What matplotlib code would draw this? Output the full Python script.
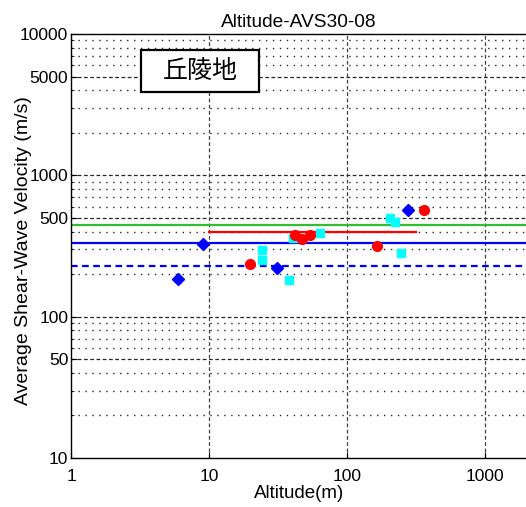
"""Altitude vs AVS30 scatter for hill terrain (丘陵地), log-log."""
import matplotlib
matplotlib.use("Agg")
import matplotlib.pyplot as plt
from matplotlib.patches import Rectangle

plt.rcParams["font.family"] = ["Liberation Sans", "Noto Sans CJK JP", "DejaVu Sans"]

# points
blue_x = [6.0, 9.0, 31.0, 275.0]
blue_y = [186, 326, 220, 568]
red_x = [19.8, 42.0, 47.0, 54.0, 164.0, 361.0]
red_y = [236, 378, 354, 378, 318, 568]
cyan_x = [24.0, 24.0, 37.6, 40.8, 63.0, 203.0, 223.0, 245.0]
cyan_y = [296, 252, 181, 362, 392, 497, 465, 281]

# reference levels
green_level = 445
blue_level = 332
blue_dash_level = 228
red_level = 399
red_range = [10, 315]

xticks = [1, 10, 100, 1000]
yticks = [10, 50, 100, 500, 1000, 5000, 10000]
minor_y = [m * 10 ** e for e in (1, 2, 3) for m in (2, 3, 4, 6, 7, 8, 9)]

fig = plt.figure(figsize=(5.26, 5.07), dpi=100)
ax = fig.add_axes([71 / 526, 49 / 507, 456 / 526, 424 / 507])
ax.set_xscale("log")
ax.set_yscale("log")
ax.set_xlim(1, 2000)
ax.set_ylim(10, 10000)

# grid: dashed at labelled ticks, sparse dots elsewhere
for v in yticks[1:-1]:
    ax.axhline(v, color="0.15", lw=0.9, ls=(0, (3, 2)), zorder=1)
for v in minor_y:
    ax.axhline(v, color="0.15", lw=1.0, ls=(0, (1, 4)), zorder=1)
for v in xticks[1:]:
    ax.axvline(v, color="0.25", lw=0.9, ls=(0, (3, 2)), zorder=1)

ax.axhline(green_level, color="#2fbf2f", lw=1.6, zorder=2)
ax.axhline(blue_level, color="#0000ff", lw=1.6, zorder=2)
ax.axhline(blue_dash_level, color="#0000ff", lw=1.6, ls=(0, (3, 2)), zorder=2)
ax.plot(red_range, [red_level, red_level], color="#ff0000", lw=1.6, zorder=2)

ax.plot(cyan_x, cyan_y, ls="none", marker="s", ms=5.5, color="#00ffff", zorder=3)
ax.plot(blue_x, blue_y, ls="none", marker="D", ms=6.3, color="#0000ff", zorder=4)
ax.plot(red_x, red_y, ls="none", marker="o", ms=7, color="#ff0000", zorder=5)

ax.set_xticks(xticks)
ax.set_xticklabels([str(v) for v in xticks])
ax.set_yticks(yticks)
ax.set_yticklabels([str(v) for v in yticks])
ax.set_yticks(minor_y, minor=True)
ax.set_yticklabels([], minor=True)
ax.xaxis.set_minor_locator(matplotlib.ticker.NullLocator())
ax.tick_params(which="both", direction="in", labelsize=12.5, top=False, right=False)
ax.tick_params(which="major", length=4)
ax.tick_params(which="minor", length=2)
ax.tick_params(axis="y", pad=2)
ax.tick_params(axis="x", pad=8)
ax.spines["right"].set_visible(False)
for s in ("left", "bottom", "top"):
    ax.spines[s].set_linewidth(1.0)

ax.set_title("Altitude-AVS30-08", fontsize=13.8, pad=5)
ax.set_xlabel("Altitude(m)", fontsize=13.5, labelpad=1)
ax.set_ylabel("Average Shear-Wave Velocity (m/s)", fontsize=14)
ax.yaxis.set_label_coords(-0.086, 0.49)

ax.add_patch(Rectangle((0.1536, 0.863), 0.259, 0.099, transform=ax.transAxes,
                       facecolor="white", edgecolor="black", lw=1.6, zorder=6))
ax.text(0.283, 0.913, "丘陵地", transform=ax.transAxes, ha="center", va="center",
        fontsize=18, family=["Noto Sans CJK JP", "DejaVu Sans"], zorder=7)

fig.savefig("out.png", dpi=100)
